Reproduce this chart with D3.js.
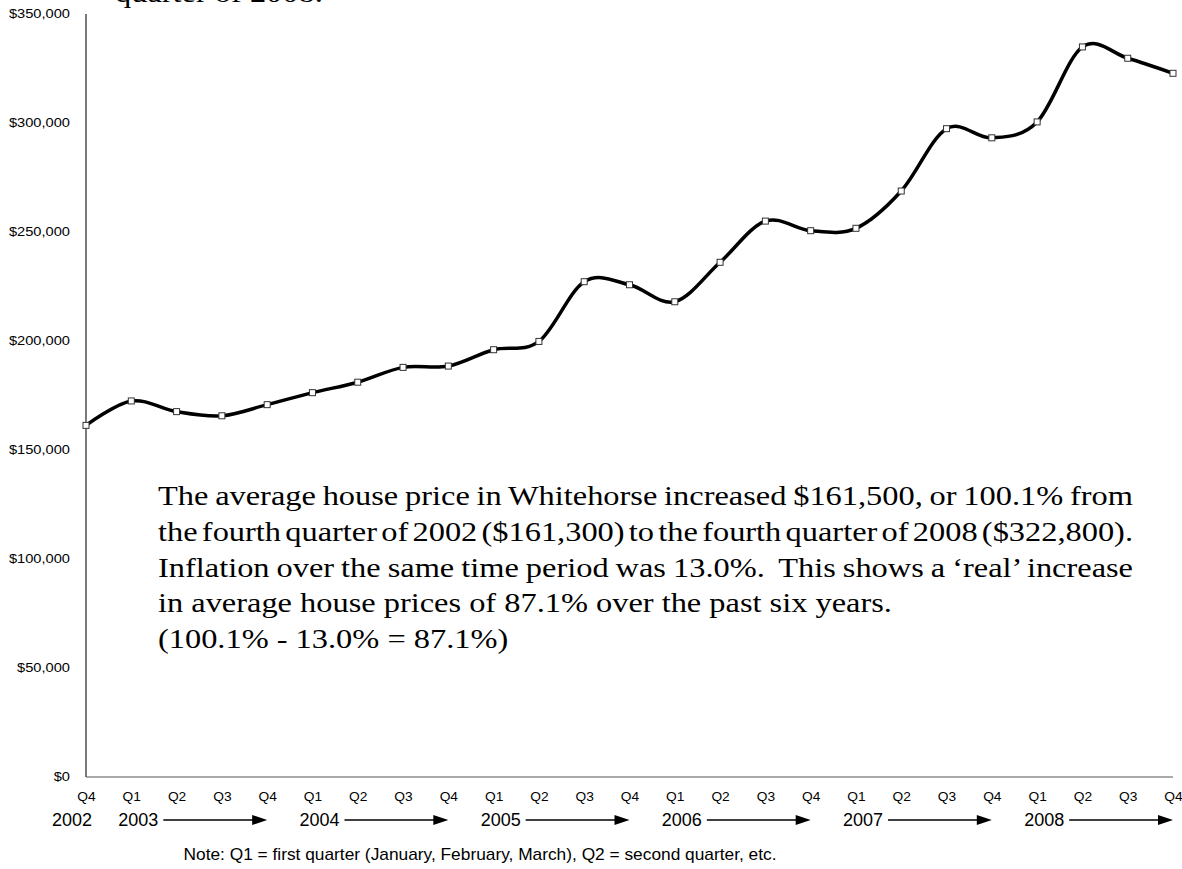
<!DOCTYPE html>
<html>
<head>
<meta charset="utf-8">
<script src="https://cdn.jsdelivr.net/npm/d3@7"></script>
<style>
  html, body { margin: 0; padding: 0; background: #fff; }
  svg { display: block; }
</style>
</head>
<body>
<svg id="chart" width="1182" height="869"></svg>
<script>
// Average house price, Whitehorse, Q4 2002 – Q4 2008
const quarters = ["Q4",
  "Q1","Q2","Q3","Q4",
  "Q1","Q2","Q3","Q4",
  "Q1","Q2","Q3","Q4",
  "Q1","Q2","Q3","Q4",
  "Q1","Q2","Q3","Q4",
  "Q1","Q2","Q3","Q4"];
const prices = [161300,
  172500, 167600, 165700, 170800,
  176300, 181100, 187900, 188500,
  196000, 199800, 227200, 225800,
  218000, 236100, 255000, 250600,
  251700, 268800, 297400, 293200,
  300500, 334900, 329700, 322800];
const yTicks = [0, 50000, 100000, 150000, 200000, 250000, 300000, 350000];
// year labels: text and index of the quarter they sit under
const years = ["2002", "2003", "2004", "2005", "2006", "2007", "2008"];
const yearIdx = [0, 1, 5, 9, 13, 17, 21];

// commentary paragraph; the first three lines are justified
const noteLines = [
  "The average house price in Whitehorse increased $161,500, or 100.1% from",
  "the fourth quarter of 2002 ($161,300) to the fourth quarter of 2008 ($322,800).",
  "Inflation over the same time period was 13.0%.  This shows a \u2018real\u2019 increase",
  "in average house prices of 87.1% over the past six years.",
  "(100.1% - 13.0% = 87.1%)"
];
const noteJustified = [true, true, true, false, false];
const headingTail = "quarter of 2008.";
const footnote = "Note: Q1 = first quarter (January, February, March), Q2 = second quarter, etc.";

const svg = d3.select("#chart");
const plotL = 86, plotR = 1173, plotT = 14, plotB = 777;

const x = d3.scaleLinear().domain([0, prices.length - 1]).range([plotL, plotR]);
const y = d3.scaleLinear().domain([0, 350000]).range([plotB, plotT]);

const sans = "'Liberation Sans', Arial, sans-serif";
const serif = "'Liberation Serif', 'Times New Roman', serif";

// widen a text element horizontally by factor k
function widen(sel, k) {
  sel.each(function () {
    const w = this.getComputedTextLength();
    d3.select(this).attr("textLength", w * k).attr("lengthAdjust", "spacingAndGlyphs");
  });
}

// y axis labels
const yAxis = d3.axisLeft(y).tickValues(yTicks).tickSize(0).tickPadding(16)
  .tickFormat(d3.format("$,"));
const gy = svg.append("g").attr("transform", `translate(${plotL},0)`).call(yAxis);
gy.select(".domain").remove();
gy.selectAll("text").attr("font-family", sans).attr("font-size", 12).attr("fill", "#000")
  .call(widen, 1.22);

// axis lines
svg.append("line").attr("x1", plotL).attr("x2", plotL).attr("y1", plotT).attr("y2", plotB)
  .attr("stroke", "#222").attr("stroke-width", 1.2);
svg.append("line").attr("x1", plotL).attr("x2", plotR).attr("y1", plotB).attr("y2", plotB)
  .attr("stroke", "#555").attr("stroke-width", 1.2);

// quarter labels
const xAxis = d3.axisBottom(x).tickValues(d3.range(quarters.length)).tickSize(0).tickPadding(0)
  .tickFormat(i => quarters[i]);
const gx = svg.append("g").attr("transform", `translate(0,${plotB + 15})`).call(xAxis);
gx.select(".domain").remove();
gx.selectAll("text").attr("font-family", sans).attr("font-size", 12.5).attr("fill", "#000")
  .call(widen, 1.1);

// year labels with arrows running to the year's Q4
const yearG = svg.append("g");
years.forEach((yr, k) => {
  const i = yearIdx[k];
  const t = yearG.append("text")
    .attr("x", k === 0 ? x(i) - 34 : x(i) - 13)
    .attr("y", 826)
    .attr("font-family", sans).attr("font-size", 18).attr("fill", "#000")
    .text(yr);
  if (k > 0) {
    const bb = t.node().getBBox();
    const x0 = bb.x + bb.width + 5;
    const x1 = x(Math.min(i + 3, prices.length - 1));
    const ay = 820;
    yearG.append("line").attr("x1", x0).attr("x2", x1 - 12).attr("y1", ay).attr("y2", ay)
      .attr("stroke", "#000").attr("stroke-width", 1.7);
    yearG.append("path")
      .attr("d", `M${x1},${ay} L${x1 - 15},${ay - 5} L${x1 - 15},${ay + 5} Z`)
      .attr("fill", "#000");
  }
});

// footnote
svg.append("text")
  .attr("x", 480).attr("y", 860).attr("text-anchor", "middle")
  .attr("font-family", sans).attr("font-size", 17).attr("fill", "#000")
  .attr("textLength", 593).attr("lengthAdjust", "spacingAndGlyphs")
  .text(footnote);

// smoothed price line
const line = d3.line()
  .x((d, i) => x(i))
  .y(d => y(d))
  .curve(d3.curveCardinal.tension(0));
svg.append("path")
  .datum(prices)
  .attr("d", line)
  .attr("fill", "none")
  .attr("stroke", "#000")
  .attr("stroke-width", 3.5)
  .attr("stroke-linejoin", "round");

// square markers
svg.append("g").selectAll("rect")
  .data(prices)
  .join("rect")
  .attr("x", (d, i) => x(i) - 3)
  .attr("y", d => y(d) - 3)
  .attr("width", 6).attr("height", 6)
  .attr("fill", "#fff")
  .attr("stroke", "#333")
  .attr("stroke-width", 1);

// commentary text block: serif, slightly widened, justified to a fixed column
const textX = 158, colW = 975, serifSize = 27, stretch = 1.2;
const note = svg.append("g");
noteLines.forEach((ln, k) => {
  const t = note.append("text")
    .attr("transform", `translate(${textX},${505 + k * 35.8}) scale(${stretch},1)`)
    .attr("x", 0).attr("y", 0)
    .attr("font-family", serif).attr("font-size", serifSize).attr("fill", "#000")
    .attr("xml:space", "preserve")
    .text(ln);
  if (noteJustified[k]) {
    const w = t.node().getComputedTextLength();
    const gaps = (ln.match(/ /g) || []).length;
    t.attr("word-spacing", (colW / stretch - w) / gaps);
  }
});

// heading tail, cut off at the top edge
svg.append("text")
  .attr("transform", `translate(115,2) scale(${stretch},1)`)
  .attr("font-family", serif).attr("font-size", 27)
  .attr("fill", "#000")
  .text(headingTail);
</script>
</body>
</html>
